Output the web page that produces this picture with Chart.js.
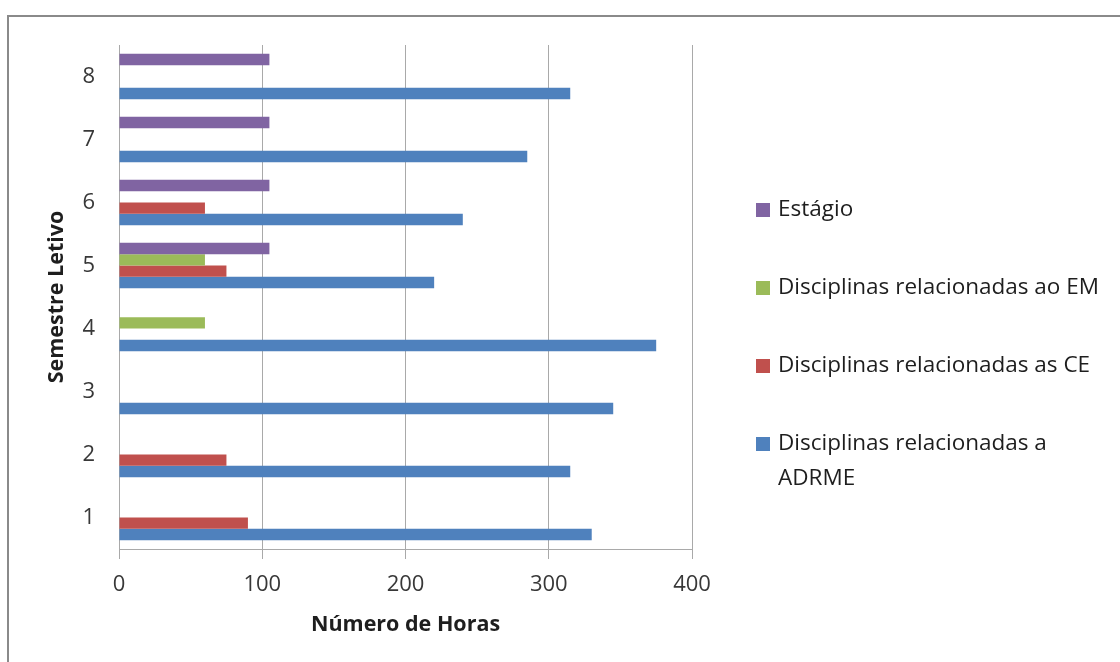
<!DOCTYPE html>
<html>
<head>
<meta charset="utf-8">
<script src="https://cdn.jsdelivr.net/npm/chart.js@4.4.1/dist/chart.umd.min.js"></script>
<style>
  html, body { margin: 0; padding: 0; background: #ffffff; }
  #wrap { position: relative; width: 1120px; height: 662px; }
</style>
</head>
<body>
<div id="wrap"><canvas id="c" width="1120" height="662"></canvas></div>
<script>
// Semesters (category axis, bottom to top)
const semestres = ['1', '2', '3', '4', '5', '6', '7', '8'];

// Hours per semester for each group of activities
const horasEstagio = [null, null, null, null, 105, 105, 105, 105];
const horasEM      = [null, null, null, 60, 60, null, null, null];
const horasCE      = [90, 75, null, null, 75, 60, null, null];
const horasADRME   = [330, 315, 345, 375, 220, 240, 285, 315];

// Series names and colours (legend order, top to bottom)
const nomesSeries = [
  'Estágio',
  'Disciplinas relacionadas ao EM',
  'Disciplinas relacionadas as CE',
  'Disciplinas relacionadas a ADRME'
];
const coresSeries = ['#8064A2', '#9BBB59', '#C0504D', '#4F81BD'];

// Value axis
const eixoMin = 0;
const eixoMax = 400;
const eixoPasso = 100;

const FONT = '"Open Sans", "Liberation Sans", sans-serif';
const GRID = '#a9a9a9';

const valoresSeries = [horasEstagio, horasEM, horasCE, horasADRME];

// Outer frame of the chart
const framePlugin = {
  id: 'frame',
  beforeDraw(chart) {
    const ctx = chart.ctx;
    ctx.save();
    ctx.fillStyle = '#ffffff';
    ctx.fillRect(0, 0, chart.width, chart.height);
    ctx.strokeStyle = '#8a8a8a';
    ctx.lineWidth = 2;
    ctx.strokeRect(8, 16, chart.width + 20, chart.height + 20);
    ctx.restore();
  }
};

// Legend on the right with word-wrapped labels
const sideLegend = {
  id: 'sideLegend',
  afterDraw(chart) {
    const ctx = chart.ctx;
    const x0 = 756, box = 14, textX = 778, maxW = 335;
    const lineH = 35, gap = 43;
    let y = 210;
    ctx.save();
    ctx.font = '22.5px ' + FONT;
    ctx.textBaseline = 'middle';
    ctx.textAlign = 'left';
    chart.data.datasets.forEach((ds) => {
      const words = ds.label.split(' ');
      const lines = [];
      let cur = '';
      words.forEach((w) => {
        const t = cur ? cur + ' ' + w : w;
        if (ctx.measureText(t).width > maxW && cur) { lines.push(cur); cur = w; }
        else cur = t;
      });
      lines.push(cur);
      ctx.fillStyle = ds.backgroundColor;
      ctx.fillRect(x0, y - box / 2, box, box);
      ctx.fillStyle = '#1e1e1e';
      lines.forEach((ln, i) => ctx.fillText(ln, textX, y + i * lineH));
      y += lines.length * lineH + gap;
    });
    ctx.restore();
  }
};

new Chart(document.getElementById('c'), {
  type: 'bar',
  data: {
    labels: semestres,
    datasets: nomesSeries.map((nome, i) => ({
      label: nome,
      data: valoresSeries[i],
      backgroundColor: coresSeries[i],
      borderWidth: 0,
      barPercentage: 1.0,
      categoryPercentage: 0.72
    }))
  },
  options: {
    indexAxis: 'y',
    responsive: false,
    animation: false,
    layout: { padding: { top: 45, right: 428, bottom: 0, left: 0 } },
    plugins: {
      legend: { display: false },
      tooltip: { enabled: false }
    },
    scales: {
      x: {
        min: eixoMin,
        max: eixoMax,
        ticks: {
          stepSize: eixoPasso,
          color: '#383838',
          font: { family: FONT, size: 22 },
          padding: 13
        },
        grid: { color: GRID, lineWidth: 1, tickLength: 10, drawTicks: true },
        border: { color: GRID, width: 1 },
        title: {
          display: true,
          text: 'Número de Horas',
          color: '#1e1e1e',
          font: { family: FONT, size: 21.5, weight: 'bold' },
          padding: { top: 0, bottom: 24 }
        },
        afterFit(scale) { scale.height = 113; }
      },
      y: {
        type: 'category',
        reverse: true,
        ticks: {
          color: '#383838',
          font: { family: FONT, size: 22 },
          padding: 24
        },
        grid: { display: false, drawTicks: false },
        border: { color: GRID, width: 1 },
        title: {
          display: true,
          text: 'Semestre Letivo',
          color: '#1e1e1e',
          font: { family: FONT, size: 21.5, weight: 'bold' },
          padding: { top: 44, bottom: 0 }
        },
        afterFit(scale) { scale.width = 119; }
      }
    }
  },
  plugins: [framePlugin, sideLegend]
});
</script>
</body>
</html>
